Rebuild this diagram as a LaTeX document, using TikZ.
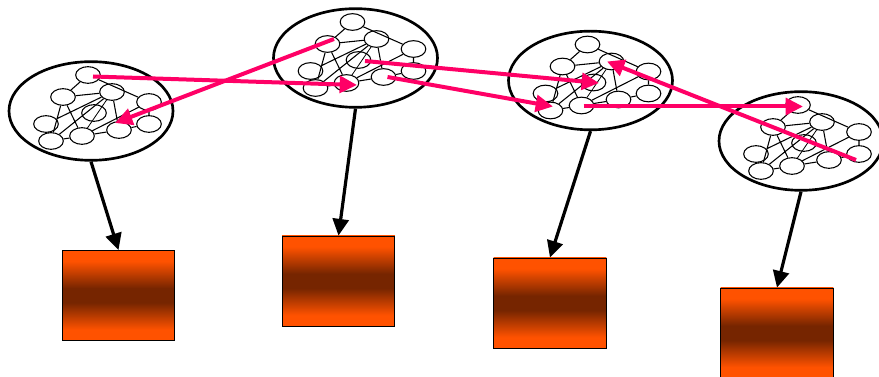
\documentclass[tikz,border=0pt]{standalone}
\usetikzlibrary{shapes.geometric,arrows.meta}
\definecolor{hotpink}{HTML}{FF0066}
\definecolor{boxorange}{HTML}{FF5200}
\definecolor{boxbrown}{HTML}{762500}
\pgfdeclareverticalshading{boxfade}{100bp}{color(0bp)=(boxorange); color(31bp)=(boxorange); color(46bp)=(boxbrown); color(54bp)=(boxbrown); color(69bp)=(boxorange); color(100bp)=(boxorange)}
\tikzset{
	bigcell/.style={draw, ellipse, line width=2pt, inner sep=0, minimum width=123pt, minimum height=74pt},
	smallcell/.style={draw, ellipse, line width=0.8pt, inner sep=0, minimum width=18.5pt, minimum height=12.5pt},
	outbox/.style={draw, line width=0.6pt, inner sep=0, minimum width=84.5pt, minimum height=67.5pt, shading=boxfade},
	downarrow/.style={line width=2.4pt, -{Triangle[length=12.5pt, width=12pt]}},
	pinkarrow/.style={hotpink, line width=3pt, -{Triangle[length=13pt, width=12.5pt]}},
}
\newcommand{\netcell}[3]{
	\node[bigcell] (#1) at (#2, #3) {};
	\begin{scope}[shift={(#2, #3)}]
		\node[smallcell] (#1top) at (-3, -36) {};
		\node[smallcell] (#1a) at (-28, -14) {};
		\node[smallcell] (#1b) at (21, -19) {};
		\node[smallcell] (#1c) at (58, -9) {};
		\node[smallcell] (#1d) at (-45, 13) {};
		\node[smallcell] (#1e) at (-40, 30) {};
		\node[smallcell] (#1f) at (-9, 25) {};
		\node[smallcell] (#1g) at (28, 19) {};
		\node[smallcell] (#1h) at (58, 13) {};
		\node[smallcell] (#1m) at (3, 2) {};
	\end{scope}
	\draw[line width=0.8pt] (#1top) -- (#1a) -- (#1b) -- (#1d) -- (#1e) -- (#1f) -- (#1g) -- (#1h) -- (#1c) -- (#1f) -- (#1a) -- (#1e) -- (#1b) -- (#1g);
	\draw[line width=0.8pt] (#1top) -- (#1c);
	\draw[line width=0.6pt] (#1f) -- (#1b);
}
\begin{document}
\begin{tikzpicture}[x=0.75pt, y=-0.75pt]
	\useasboundingbox (0, 0) rectangle (879, 377);
	\netcell{one}{91}{111}
	\netcell{two}{355.5}{58}
	\netcell{three}{590.5}{80.5}
	\netcell{four}{801}{141}
	
	\node[outbox] (boxone) at (118.5, 295.5) {};
	\node[outbox] (boxtwo) at (338.5, 281) {};
	\node[outbox] (boxthree) at (550, 303) {};
	\node[outbox] (boxfour) at (777, 333) {};
	
	\draw[downarrow] (one.south) -- (boxone.north);
	\draw[downarrow] (two.south) -- (boxtwo.north);
	\draw[downarrow] (three.south) -- (boxthree.north);
	\draw[downarrow] (four.south) -- (boxfour.north);
	
	\draw[pinkarrow] ([shift={(5, 1.5)}]onetop.center) -- ([shift={(10.5, 2)}]twof.center);
	\draw[pinkarrow] ([shift={(6.5, -5)}]twoa.center) -- ([shift={(-4, -7)}]oneg.center);
	\draw[pinkarrow] ([shift={(6.5, 1)}]twom.center) -- ([shift={(5.5, 0.5)}]threem.center);
	\draw[pinkarrow] ([shift={(4, 0)}]twog.center) -- ([shift={(2.5, -4)}]threee.center);
	\draw[pinkarrow] ([shift={(2, 1)}]threef.center) -- ([shift={(5, 1.5)}]fourtop.center);
	\draw[pinkarrow] ([shift={(-3, 6)}]fourh.center) -- ([shift={(-4.5, 0)}]threeb.center);
\end{tikzpicture}
\end{document}
